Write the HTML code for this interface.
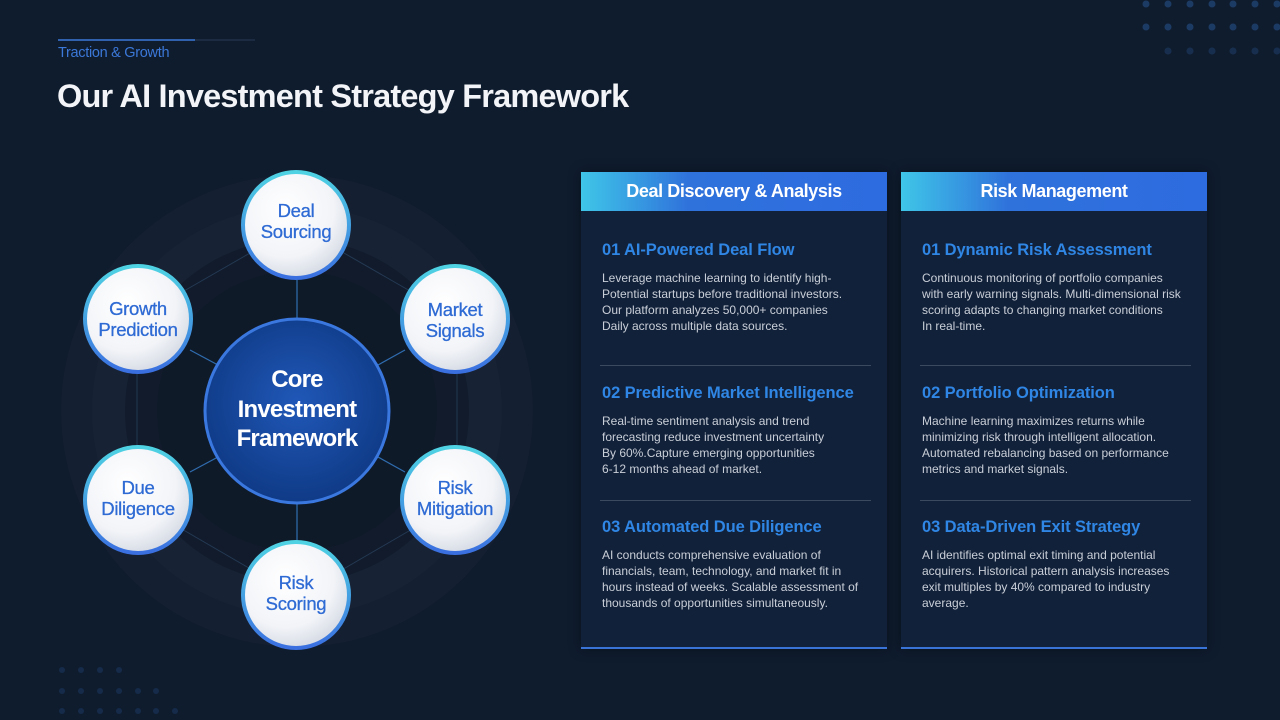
<!DOCTYPE html>
<html><head><meta charset="utf-8"><style>
*{margin:0;padding:0;box-sizing:border-box}
body{width:1280px;height:720px;background:#0f1c2e;font-family:"Liberation Sans",sans-serif;position:relative;overflow:hidden}
.abs{position:absolute}
.sub{left:58px;top:45px;font-size:14.5px;color:#3b78d8;letter-spacing:-0.3px}
.title{left:57px;top:78px;font-size:32.5px;font-weight:bold;color:#f2f4f7;letter-spacing:-0.8px}
.card{position:absolute;top:172px;width:306px;height:477px;background:#12213a;border-bottom:2px solid #3a73d6;box-shadow:0 0 12px rgba(0,0,0,.4)}
.hd{height:39px;background:linear-gradient(90deg,#3fc6e8 0%,#2f72db 35%,#2d6be0 100%);color:#fff;font-weight:bold;font-size:18px;text-align:center;line-height:39px;letter-spacing:-0.4px}
.sec{position:absolute;left:21px;width:275px}
.sec h3{font-size:16.5px;color:#2f86e4;font-weight:bold;letter-spacing:-0.1px;margin-bottom:10px}
.sec p{font-size:12px;line-height:16px;color:#c9cfd8;letter-spacing:0}
.div{position:absolute;left:19px;width:271px;height:1px;background:#3c4a60}
</style></head><body>
<svg class="abs" style="left:0;top:0" width="1280" height="720">
<defs>
<radialGradient id="core" cx="50%" cy="45%" r="55%"><stop offset="0" stop-color="#2058b8"/><stop offset="1" stop-color="#0f3a86"/></radialGradient>
<radialGradient id="sat" cx="40%" cy="35%" r="65%"><stop offset="0" stop-color="#ffffff"/><stop offset="0.7" stop-color="#f2f4f8"/><stop offset="1" stop-color="#d8dde6"/></radialGradient>
<linearGradient id="ring" x1="0" y1="0" x2="0" y2="1"><stop offset="0" stop-color="#4fd3e3"/><stop offset="1" stop-color="#3a6fe0"/></linearGradient>
</defs>
<g fill="#2a5a9a">
<g opacity="0.5"><circle cx="1146" cy="4" r="3.5"/><circle cx="1168" cy="4" r="3.5"/><circle cx="1190" cy="4" r="3.5"/><circle cx="1212" cy="4" r="3.5"/><circle cx="1233" cy="4" r="3.5"/><circle cx="1255" cy="4" r="3.5"/><circle cx="1277" cy="4" r="3.5"/>
<circle cx="1146" cy="27" r="3.5"/><circle cx="1168" cy="27" r="3.5"/><circle cx="1190" cy="27" r="3.5"/><circle cx="1212" cy="27" r="3.5"/><circle cx="1233" cy="27" r="3.5"/><circle cx="1255" cy="27" r="3.5"/><circle cx="1277" cy="27" r="3.5"/></g>
<g opacity="0.3"><circle cx="1168" cy="51" r="3.5"/><circle cx="1190" cy="51" r="3.5"/><circle cx="1212" cy="51" r="3.5"/><circle cx="1233" cy="51" r="3.5"/><circle cx="1255" cy="51" r="3.5"/><circle cx="1277" cy="51" r="3.5"/></g>
<g opacity="0.25"><circle cx="62" cy="670" r="3"/><circle cx="81" cy="670" r="3"/><circle cx="100" cy="670" r="3"/><circle cx="119" cy="670" r="3"/><circle cx="62" cy="691" r="3"/><circle cx="81" cy="691" r="3"/><circle cx="100" cy="691" r="3"/><circle cx="119" cy="691" r="3"/><circle cx="138" cy="691" r="3"/><circle cx="156" cy="691" r="3"/><circle cx="62" cy="711" r="3"/><circle cx="81" cy="711" r="3"/><circle cx="100" cy="711" r="3"/><circle cx="119" cy="711" r="3"/><circle cx="138" cy="711" r="3"/><circle cx="156" cy="711" r="3"/><circle cx="175" cy="711" r="3"/></g>
</g>
<line x1="58" y1="40" x2="195" y2="40" stroke="#3b78d8" stroke-width="1.5"/>
<line x1="195" y1="40" x2="255" y2="40" stroke="#2a3a55" stroke-width="1"/>
<circle cx="297" cy="411" r="236" fill="#141f31"/>
<circle cx="297" cy="411" r="205" fill="#172335"/>
<circle cx="297" cy="411" r="172" fill="#111b2b"/>
<circle cx="297" cy="411" r="140" fill="#0f1a29"/>
<polygon points="297,226 457,318 457,503 297,596 137,503 137,318" fill="none" stroke="#243852" stroke-width="1"/>
<g stroke="#2f6db0" stroke-width="1.2">
<line x1="297" y1="280" x2="297" y2="320"/><line x1="297" y1="500" x2="297" y2="542"/>
<line x1="190" y1="350" x2="218" y2="365"/><line x1="405" y1="350" x2="378" y2="365"/>
<line x1="190" y1="472" x2="218" y2="457"/><line x1="405" y1="472" x2="378" y2="457"/>
</g>
<circle cx="297" cy="411" r="92" fill="url(#core)" stroke="#3a78e0" stroke-width="3"/>
<g fill="url(#sat)" stroke="url(#ring)" stroke-width="4">
<circle cx="296" cy="225" r="53"/><circle cx="455" cy="319" r="53"/><circle cx="138" cy="319" r="53"/>
<circle cx="138" cy="500" r="53"/><circle cx="455" cy="500" r="53"/><circle cx="296" cy="595" r="53"/>
</g>
<g font-family="Liberation Sans, sans-serif" font-size="18.5" fill="#2f6bd4" text-anchor="middle" letter-spacing="-0.3" stroke="#2f6bd4" stroke-width="0.3">
<text x="296" y="217">Deal</text><text x="296" y="238">Sourcing</text>
<text x="455" y="316">Market</text><text x="455" y="337">Signals</text>
<text x="138" y="315">Growth</text><text x="138" y="336">Prediction</text>
<text x="138" y="494">Due</text><text x="138" y="515">Diligence</text>
<text x="455" y="494">Risk</text><text x="455" y="515">Mitigation</text>
<text x="296" y="589">Risk</text><text x="296" y="610">Scoring</text>
</g>
<g font-family="Liberation Sans, sans-serif" font-size="24" font-weight="bold" fill="#fff" text-anchor="middle" letter-spacing="-0.8">
<text x="297" y="387">Core</text><text x="297" y="417">Investment</text><text x="297" y="446">Framework</text>
</g>
</svg>
<div class="abs sub">Traction &amp; Growth</div>
<div class="abs title">Our AI Investment Strategy Framework</div>

<div class="card" style="left:581px">
<div class="hd">Deal Discovery &amp; Analysis</div>
<div class="sec" style="top:69px"><h3>01 AI-Powered Deal Flow</h3><p>Leverage machine learning to identify high-<br>Potential startups before traditional investors.<br>Our platform analyzes 50,000+ companies<br>Daily across multiple data sources.</p></div>
<div class="div" style="top:193px"></div>
<div class="sec" style="top:212px"><h3>02 Predictive Market Intelligence</h3><p>Real-time sentiment analysis and trend<br>forecasting reduce investment uncertainty<br>By 60%.Capture emerging opportunities<br>6-12 months ahead of market.</p></div>
<div class="div" style="top:328px"></div>
<div class="sec" style="top:346px"><h3>03 Automated Due Diligence</h3><p>AI conducts comprehensive evaluation of<br>financials, team, technology, and market fit in<br>hours instead of weeks. Scalable assessment of<br>thousands of opportunities simultaneously.</p></div>
</div>

<div class="card" style="left:901px">
<div class="hd">Risk Management</div>
<div class="sec" style="top:69px"><h3>01 Dynamic Risk Assessment</h3><p>Continuous monitoring of portfolio companies<br>with early warning signals. Multi-dimensional risk<br>scoring adapts to changing market conditions<br>In real-time.</p></div>
<div class="div" style="top:193px"></div>
<div class="sec" style="top:212px"><h3>02 Portfolio Optimization</h3><p>Machine learning maximizes returns while<br>minimizing risk through intelligent allocation.<br>Automated rebalancing based on performance<br>metrics and market signals.</p></div>
<div class="div" style="top:328px"></div>
<div class="sec" style="top:346px"><h3>03 Data-Driven Exit Strategy</h3><p>AI identifies optimal exit timing and potential<br>acquirers. Historical pattern analysis increases<br>exit multiples by 40% compared to industry<br>average.</p></div>
</div>
</body></html>
